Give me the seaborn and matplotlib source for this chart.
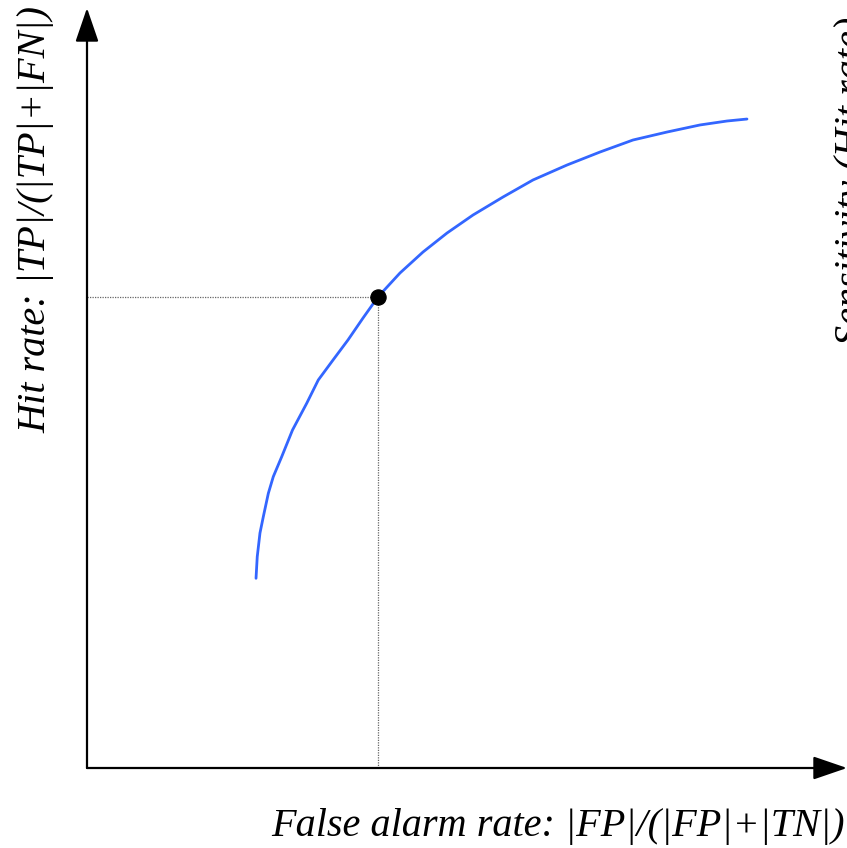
import matplotlib
matplotlib.use("Agg")
import matplotlib.pyplot as plt
import seaborn as sns
import pandas as pd

# ROC curve points (axis fraction units, 0..1)
curve_x = [0.2224, 0.2240, 0.2276, 0.2320, 0.2386, 0.2451, 0.2562, 0.2704,
           0.2891, 0.3043, 0.3237, 0.3434, 0.3632, 0.3830, 0.4118, 0.4421,
           0.4737, 0.5079, 0.5474, 0.5868, 0.6316, 0.6750, 0.7184, 0.7632,
           0.8066, 0.8421, 0.8684]
curve_y = [0.2496, 0.2780, 0.3092, 0.3307, 0.3614, 0.3833, 0.4096, 0.4447,
           0.4799, 0.5105, 0.5368, 0.5632, 0.5921, 0.6200, 0.6513, 0.6789,
           0.7039, 0.7276, 0.7513, 0.7737, 0.7934, 0.8105, 0.8263, 0.8368,
           0.8461, 0.8513, 0.8539]

# Operating point
point_x = [0.383]
point_y = [0.620]

x_label = "False alarm rate: |FP|/(|FP|+|TN|)"
y_label = "Hit rate: |TP|/(|TP|+|FN|)"
right_label = "Sensitivity (Hit rate)"

sns.set_style("white")
plt.rcParams['font.family'] = ['Liberation Serif', 'DejaVu Serif']
plt.rcParams['text.color'] = 'black'

W, H = 847, 848
fig = plt.figure(figsize=(W / 100, H / 100), dpi=100)
ax = fig.add_axes([87 / W, 80 / H, 760 / W, 760 / H])
ax.set_xlim(0, 1)
ax.set_ylim(0, 1)
ax.axis("off")

curve = pd.DataFrame({"x": curve_x, "y": curve_y})
pt = pd.DataFrame({"x": point_x, "y": point_y})

# dotted guide lines
ax.plot([0, point_x[0]], [point_y[0], point_y[0]], linestyle=(0, (1, 1)),
        color="#666666", lw=0.9, zorder=1)
ax.plot([point_x[0], point_x[0]], [0, point_y[0]], linestyle=(0, (1, 1)),
        color="#666666", lw=0.9, zorder=1)

sns.lineplot(data=curve, x="x", y="y", ax=ax, color="#3366FF", lw=2.0,
             sort=False, zorder=3)
sns.scatterplot(data=pt, x="x", y="y", ax=ax, color="black", s=120,
                marker="o", edgecolor="black", zorder=4)

# axes with arrow heads
arrow_style = "-|>,head_length=2.1,head_width=0.72"
for tip in [(1, 0), (0, 1)]:
    ax.annotate("", xy=tip, xytext=(0, 0), xycoords="axes fraction",
                textcoords="axes fraction",
                arrowprops=dict(arrowstyle=arrow_style, color="black", lw=1.6,
                                shrinkA=0, shrinkB=0, mutation_scale=10),
                annotation_clip=False)

fs = 29
fig.text(845 / W, 1 - 836 / H, x_label, fontsize=fs, style="italic",
         ha="right", va="baseline", color="black")
fig.text(45 / W, 1 - 433 / H, y_label, fontsize=fs, style="italic",
         rotation=90, rotation_mode="anchor", ha="left", va="baseline",
         color="black")
fig.text(862 / W, 1 - 345 / H, right_label, fontsize=fs, style="italic",
         rotation=90, rotation_mode="anchor", ha="left", va="baseline",
         color="black")

fig.savefig("out.png", dpi=100)
